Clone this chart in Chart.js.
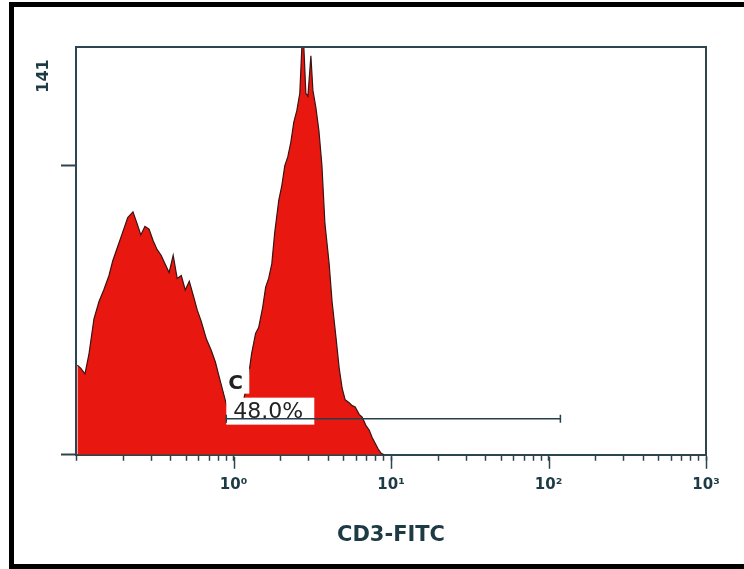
<!DOCTYPE html>
<html lang="en">
<head>
    <meta charset="UTF-8">
    <title>CD3-FITC histogram</title>
    <script src="https://cdn.jsdelivr.net/npm/chart.js"></script>
    <style>
        html, body { margin: 0; padding: 0; background: #fff; overflow: hidden; }
        #wrap { position: relative; width: 744px; height: 569px; }
        #frame {
            position: absolute; left: 9px; top: 2px; width: 760px; height: 567px;
            border: 5px solid #000; box-sizing: border-box; pointer-events: none;
        }
        canvas { position: absolute; left: 0; top: 0; }
    </style>
</head>
<body>
<div id="wrap">
    <canvas id="histChart" width="744" height="569"></canvas>
    <div id="frame"></div>
</div>

<script>
    // fluorescence channel (log scale) and event counts
    const fluor = [
        0.102, 0.107, 0.114, 0.121, 0.130, 0.140, 0.150, 0.162, 0.171, 0.184,
        0.198, 0.213, 0.230, 0.244, 0.258, 0.274, 0.291, 0.309, 0.327, 0.347,
        0.368, 0.390, 0.414, 0.439, 0.466, 0.494, 0.524, 0.556, 0.589, 0.625,
        0.673, 0.724, 0.768, 0.802, 0.838, 0.876, 0.915, 0.971, 1.045, 1.125,
        1.193, 1.266, 1.303, 1.381, 1.444, 1.532, 1.600, 1.672, 1.750, 1.828,
        1.938, 2.025, 2.117, 2.211, 2.311, 2.415, 2.523, 2.636, 2.716, 2.797,
        2.880, 2.967, 3.100, 3.193, 3.337, 3.487, 3.643, 3.806, 4.049, 4.225,
        4.486, 4.687, 4.898, 5.118, 5.425, 5.668, 5.923, 6.279, 6.560, 6.955,
        7.267, 7.593, 7.934, 8.290, 8.662, 9.052
    ];
    const counts = [
        31, 30, 28, 35, 47, 53, 57, 62, 67, 72,
        77, 82, 84, 80, 76, 79, 78, 74, 71, 69,
        66, 63, 69, 61, 62, 57, 60, 55, 50, 46,
        40, 36, 32, 28, 24, 20, 16, 14, 14, 16,
        22, 30, 35, 42, 44, 51, 58, 61, 66, 77,
        88, 93, 100, 103, 108, 115, 119, 125, 141, 141,
        125, 124, 138, 126, 120, 112, 100, 80, 66, 53,
        40, 30, 23, 19, 18, 17, 16.5, 14, 13, 10,
        8.6, 6, 4, 2, 0.5, 0
    ];

    // marker region "C"
    const gateName = 'C';
    const gatePercent = '48.0%';
    const gateRange = [0.9, 119];
    const gateLevel = 12.5;

    // axes
    const yMax = 141;
    const yTickValues = [0, 100];
    const yMaxLabel = '141';
    const xDecades = [0.1, 1, 10, 100, 1000];
    const xDecadeLabels = ['', '10\u2070', '10\u00b9', '10\u00b2', '10\u00b3'];
    const xTitle = 'CD3-FITC';

    const RED = '#e8170f';
    const EDGE = '#3b1414';
    const AXIS = '#2c454e';
    const TEXT = '#1d3a45';

    Chart.defaults.font.family = "'DejaVu Sans', sans-serif";

    const xTickValues = [];
    for (let i = 0; i < xDecades.length; i++) {
        xTickValues.push(xDecades[i]);
        if (i < xDecades.length - 1) {
            for (let m = 2; m <= 9; m++) xTickValues.push(xDecades[i] * m);
        }
    }

    function decadeLabel(v) {
        const i = xDecades.findIndex(d => Math.abs(d - v) < d * 1e-6);
        return i >= 0 ? xDecadeLabels[i] : '';
    }

    const decorPlugin = {
        id: 'decor',
        afterDatasetDraw(chart, args) {
            // white label boxes of the marker, under the marker line
            if (args.index !== 1) return;
            const ctx = chart.ctx;
            const x0 = chart.scales.x.getPixelForValue(gateRange[0]);
            const yg = chart.scales.y.getPixelForValue(gateLevel);
            ctx.save();
            ctx.fillStyle = '#fff';
            ctx.fillRect(x0 - 2, yg - 50, 25, 25);
            ctx.fillRect(x0, yg - 21, 88, 27);
            ctx.fillStyle = '#222';
            ctx.textBaseline = 'alphabetic';
            ctx.textAlign = 'left';
            ctx.font = "bold 20px 'DejaVu Sans'";
            ctx.fillText(gateName, x0 + 2, yg - 30);
            ctx.font = "22px 'DejaVu Sans'";
            ctx.fillText(gatePercent, x0 + 7, yg - 1);
            ctx.restore();
        },
        afterDraw(chart) {
            const ctx = chart.ctx;
            const a = chart.chartArea;
            const xs = chart.scales.x;
            ctx.save();
            ctx.strokeStyle = AXIS;
            ctx.lineWidth = 2;
            ctx.beginPath();
            ctx.moveTo(a.left, a.top);
            ctx.lineTo(a.right, a.top);
            ctx.lineTo(a.right, a.bottom);
            ctx.stroke();
            // longer ticks at the decades
            ctx.lineWidth = 1.5;
            xDecades.slice(1).forEach(d => {
                const px = Math.round(xs.getPixelForValue(d)) + 0.5;
                ctx.beginPath();
                ctx.moveTo(px, a.bottom + 2);
                ctx.lineTo(px, a.bottom + 14);
                ctx.stroke();
            });
            // count at top of the y axis
            ctx.fillStyle = TEXT;
            ctx.font = "bold 16px 'DejaVu Sans'";
            ctx.textAlign = 'center';
            ctx.textBaseline = 'middle';
            ctx.translate(a.left - 32, a.top + 29);
            ctx.rotate(-Math.PI / 2);
            ctx.fillText(yMaxLabel, 0, 0);
            ctx.restore();
        }
    };

    const ctx = document.getElementById('histChart').getContext('2d');
    const histChart = new Chart(ctx, {
        type: 'line',
        data: {
            datasets: [
                {
                    label: 'Marker ' + gateName,
                    data: gateRange.map(x => ({ x: x, y: gateLevel })),
                    borderColor: '#263f4c',
                    borderWidth: 1.5,
                    pointStyle: 'line',
                    rotation: 90,
                    pointRadius: 4,
                    pointBorderColor: '#263f4c',
                    pointBorderWidth: 1.5,
                    fill: false
                },
                {
                    label: xTitle,
                    data: fluor.map((x, i) => ({ x: x, y: counts[i] })),
                    fill: 'origin',
                    backgroundColor: RED,
                    borderColor: EDGE,
                    borderWidth: 1.2,
                    pointRadius: 0
                }
            ]
        },
        options: {
            responsive: false,
            animation: false,
            devicePixelRatio: 1,
            layout: { padding: { left: 61, top: 47, right: 38, bottom: 10 } },
            plugins: {
                legend: { display: false },
                tooltip: { enabled: false }
            },
            scales: {
                x: {
                    type: 'logarithmic',
                    min: 0.1,
                    max: 1000,
                    afterBuildTicks: scale => {
                        scale.ticks = xTickValues.map(v => ({ value: v, major: xDecades.includes(v) }));
                    },
                    ticks: {
                        autoSkip: false,
                        maxRotation: 0,
                        padding: 15,
                        color: TEXT,
                        font: { size: 15, weight: 'bold' },
                        callback: v => decadeLabel(v)
                    },
                    grid: {
                        drawOnChartArea: false,
                        tickLength: 6,
                        tickColor: AXIS,
                        tickWidth: 1.5
                    },
                    border: { color: AXIS, width: 2 },
                    title: {
                        display: true,
                        text: xTitle,
                        color: TEXT,
                        font: { size: 21, weight: 'bold' },
                        padding: { top: 14, bottom: 11 }
                    }
                },
                y: {
                    min: 0,
                    max: yMax,
                    afterBuildTicks: scale => {
                        scale.ticks = yTickValues.map(v => ({ value: v }));
                    },
                    ticks: { display: false },
                    grid: {
                        drawOnChartArea: false,
                        tickLength: 15,
                        tickColor: AXIS,
                        tickWidth: 2
                    },
                    border: { color: AXIS, width: 2 }
                }
            }
        },
        plugins: [decorPlugin]
    });
</script>
</body>
</html>
